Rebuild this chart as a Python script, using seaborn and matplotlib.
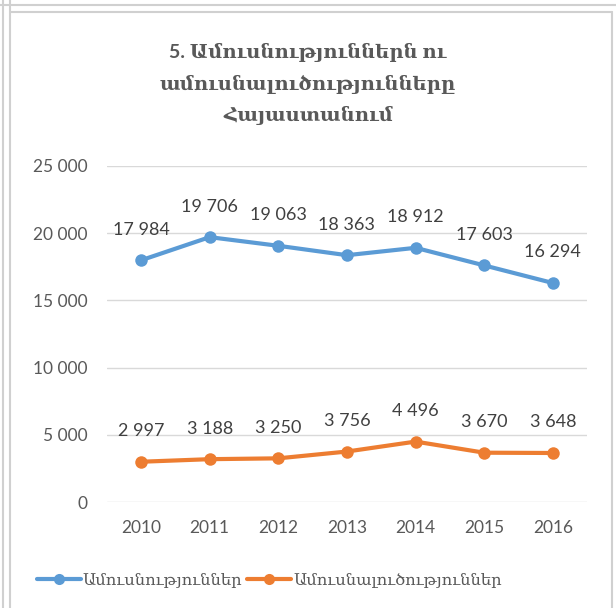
import pandas as pd
import matplotlib.pyplot as plt
import seaborn as sns
from matplotlib.lines import Line2D
from matplotlib.ticker import FuncFormatter

sns.set_theme(style="white")
plt.rcParams['font.family'] = ['Lato', 'DejaVu Serif']

# data
years = [2010, 2011, 2012, 2013, 2014, 2015, 2016]
marriages = [17984, 19706, 19063, 18363, 18912, 17603, 16294]
divorces = [2997, 3188, 3250, 3756, 4496, 3670, 3648]
series_names = ["Ամուսնություններ", "Ամուսնալուծություններ"]
title_text = "5. Ամուսնություններն ու\nամուսնալուծությունները\nՀայաստանում"

colors = ["#5B9BD5", "#ED7D31"]
grey = "#595959"

df = pd.DataFrame({
    "year": years * 2,
    "value": marriages + divorces,
    "series": [series_names[0]] * len(years) + [series_names[1]] * len(years),
})

fig = plt.figure(figsize=(6.16, 6.08), dpi=100)
ax = fig.add_axes([0.1732, 0.1743, 0.780, 0.5527])

sns.lineplot(data=df, x="year", y="value", hue="series", palette=colors,
             marker="o", markersize=9, markeredgewidth=0, linewidth=3,
             ax=ax, legend=False)

fmt = lambda v: f"{int(v):,}".replace(",", " ")
for vals in (marriages, divorces):
    for x, y in zip(years, vals):
        ax.annotate(fmt(y), (x, y), xytext=(0, 22), textcoords="offset points",
                    ha="center", va="center", fontsize=13, color="#404040")

ax.set_xlim(2009.5, 2016.5)
ax.set_ylim(0, 25000)
ax.set_yticks(range(0, 25001, 5000))
ax.set_xticks(years)
ax.yaxis.set_major_formatter(FuncFormatter(lambda v, p: fmt(v)))
ax.grid(axis="y", color="#D9D9D9", linewidth=1)
ax.tick_params(axis="both", colors=grey, labelsize=12.5, length=0, pad=14)
ax.tick_params(axis="x", pad=13)
for s in ax.spines.values():
    s.set_visible(False)
ax.set_xlabel("")
ax.set_ylabel("")

fig.text(0.50, 1 - 84 / 608, title_text, ha="center", va="center", fontsize=14,
         fontweight="bold", color=grey, linespacing=1.8)

handles = [Line2D([], [], color=c, lw=3, marker="o", markersize=8, markeredgewidth=0)
           for c in colors]
fig.legend(handles, series_names, loc="center", bbox_to_anchor=(0.437, 0.045),
           ncol=2, frameon=False, handlelength=2.7, columnspacing=0.3,
           handletextpad=0.1, labelcolor=grey,
           prop={"family": ["DejaVu Serif"], "size": 11.8})

# cell border lines around the chart
bc = "#D0D0D0"
fig.add_artist(Line2D([0, 1], [1 - 4.5 / 608] * 2, color=bc, lw=1.5))
fig.add_artist(Line2D([10 / 616, 612 / 616], [1 - 12 / 608] * 2, color=bc, lw=1.5))
fig.add_artist(Line2D([3 / 616] * 2, [0, 1], color=bc, lw=1.5))
fig.add_artist(Line2D([10 / 616] * 2, [0, 1], color=bc, lw=1.5))
fig.add_artist(Line2D([612 / 616] * 2, [0, 1 - 12 / 608], color=bc, lw=1.5))

fig.savefig("out.png", dpi=100)
